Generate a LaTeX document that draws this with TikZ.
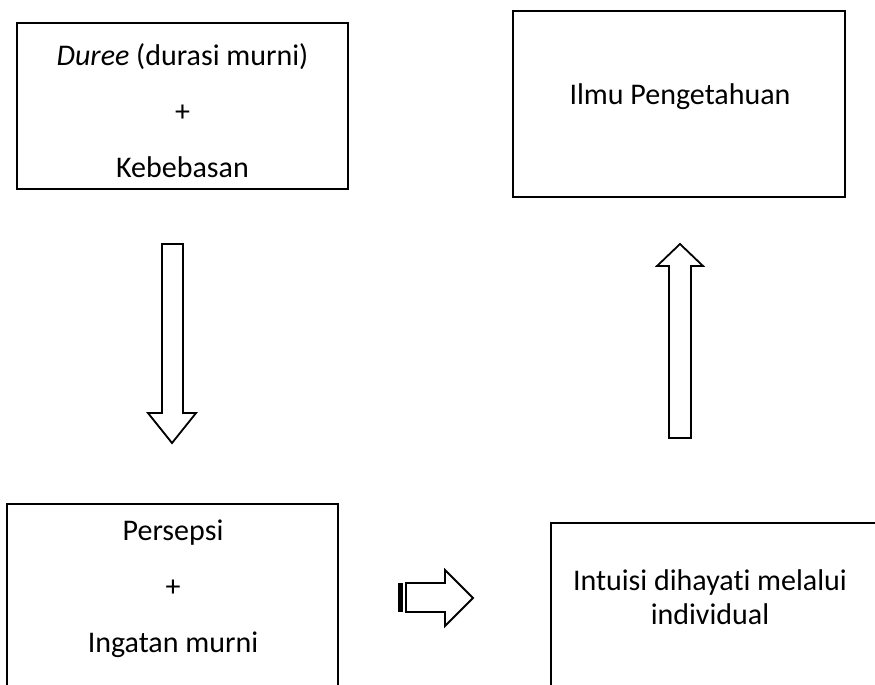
\documentclass[tikz,border=0pt]{standalone}
\usepackage{fontspec}
\setmainfont{Carlito}[RawFeature={-liga;-clig;-calt;-dlig}]
\usetikzlibrary{positioning}

\tikzset{
    box/.style={draw, line width=1.8pt, rectangle},
    boxtext/.style={align=center, inner sep=0pt, font=\fontsize{30}{56}\selectfont},
    blockarrow/.style={draw, line width=1.8pt, fill=white, line join=miter}
}

\begin{document}
\begin{tikzpicture}[x=1pt, y=-1pt]
    \useasboundingbox (0,0) rectangle (875,685);
    \clip (0,0) rectangle (875,685);

    % First box: duree + kebebasan
    \node[box, minimum width=331pt, minimum height=166pt] (duree) at (182.5,106) {};
    \node[boxtext] (dureetext) at (182.5,111) {\textit{Duree} (durasi murni)\\+\\Kebebasan};

    % Second box: ilmu pengetahuan
    \node[box, minimum width=332pt, minimum height=186pt] (ilmu) at (679,104) {};
    \node[boxtext] (ilmutext) at (680,97) {Ilmu Pengetahuan};

    % Third box: persepsi + ingatan murni
    \node[box, minimum width=331pt, minimum height=216pt] (persepsi) at (172.5,612) {};
    \node[boxtext] (persepsitext) at (173,589) {Persepsi\\+\\Ingatan murni};

    % Fourth box: intuisi
    \node[box, minimum width=349pt, minimum height=197pt] (intuisi) at (725.5,621.5) {};
    \node[boxtext, font=\fontsize{30}{34}\selectfont] (intuisitext) at (710,597) {Intuisi dihayat\kern0pt i melalui\\individual};

    % Down arrow
    \coordinate (downtip) at (172,443);
    \draw[blockarrow] (downtip) -- ++(-24,-30) -- ++(14,0) -- ++(0,-169)
        -- ++(21,0) -- ++(0,169) -- ++(13,0) -- cycle;

    % Up arrow
    \coordinate (uptip) at (680,244);
    \draw[blockarrow] (uptip) -- ++(-23,22) -- ++(12,0) -- ++(0,172)
        -- ++(22,0) -- ++(0,-172) -- ++(12,0) -- cycle;

    % Right arrow with striped tail
    \coordinate (righttip) at (473,598);
    \fill (398,583) rectangle (403,612);
    \draw[blockarrow] (righttip) -- ++(-28,-28) -- ++(0,13) -- ++(-39,0)
        -- ++(0,29) -- ++(39,0) -- ++(0,14) -- cycle;

\end{tikzpicture}
\end{document}
